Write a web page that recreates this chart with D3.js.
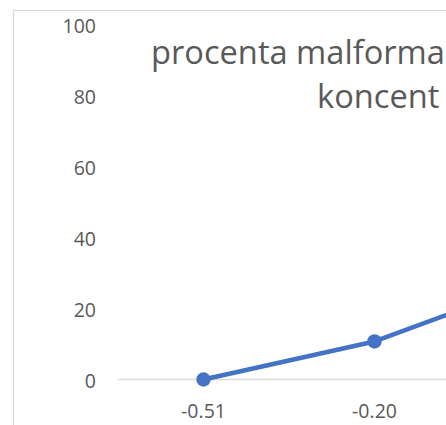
<!DOCTYPE html>
<html>
<head>
<meta charset="utf-8">
<script src="https://cdn.jsdelivr.net/npm/d3@7"></script>
<style>
  html, body { margin: 0; padding: 0; background: #fff; overflow: hidden; }
  text { font-family: "Open Sans", sans-serif; fill: #595959; }
</style>
</head>
<body>
<svg width="446" height="425"></svg>
<script>
// data (the chart is cropped, the 3rd point lies just past the right edge)
const categories = ["-0.51", "-0.20", "0.10"];
const values = [0, 10.7, 28.4];
const yTicks = [0, 20, 40, 60, 80, 100];
const titleLines = ["procenta malformací v závislosti na", "koncent"];

const svg = d3.select("svg");

// chart area frame
svg.append("rect")
    .attr("x", 13.5).attr("y", 10.5)
    .attr("width", 1000).attr("height", 1000)
    .attr("fill", "#fff")
    .attr("stroke", "#d9d9d9")
    .attr("stroke-width", 1.3);

// scales
const left = 118, step = 171;
const x = d3.scaleBand()
    .domain(categories)
    .range([left, left + step * categories.length]);
const y = d3.scaleLinear().domain([0, 100]).range([379.5, 24]);

// y labels
const yAxis = svg.append("g")
    .attr("transform", `translate(${left},0)`)
    .call(d3.axisLeft(y).tickValues(yTicks).tickSize(0).tickPadding(22));
yAxis.select(".domain").remove();
yAxis.selectAll("text")
    .attr("font-size", 19.5)
    .attr("font-family", "Open Sans")
    .attr("fill", "#595959")
    .attr("dy", "0.42em");

// horizontal axis line at 0
svg.append("line")
    .attr("x1", left).attr("x2", left + step * categories.length)
    .attr("y1", y(0)).attr("y2", y(0))
    .attr("stroke", "#d9d9d9")
    .attr("stroke-width", 1.3);

// x labels
const xAxis = svg.append("g")
    .attr("transform", `translate(0,${y(0)})`)
    .call(d3.axisBottom(x).tickSize(0).tickPadding(25));
xAxis.select(".domain").remove();
xAxis.selectAll("text")
    .attr("font-size", 19.5)
    .attr("font-family", "Open Sans")
    .attr("fill", "#595959");

// title - fit font size so "procenta malform" is about as wide as in the original
const probe = svg.append("text").attr("font-size", 32).text("procenta malform");
const titleSize = 32 * 276 / probe.node().getComputedTextLength();
probe.remove();

svg.append("text").attr("x", 151).attr("y", 64)
    .attr("font-size", titleSize).text(titleLines[0]);
svg.append("text").attr("x", 317).attr("y", 108)
    .attr("font-size", titleSize).text(titleLines[1]);

// line + markers
const pts = categories.map((c, i) => ({ c, v: values[i] }));
const line = d3.line()
    .x(d => x(d.c) + x.bandwidth() / 2)
    .y(d => y(d.v));

svg.append("path")
    .attr("d", line(pts))
    .attr("fill", "none")
    .attr("stroke", "#4472c4")
    .attr("stroke-width", 4.5)
    .attr("stroke-linejoin", "round");

svg.selectAll("circle.pt")
    .data(pts)
    .join("circle")
    .attr("class", "pt")
    .attr("cx", d => x(d.c) + x.bandwidth() / 2)
    .attr("cy", d => y(d.v))
    .attr("r", 7.2)
    .attr("fill", "#4472c4");
</script>
</body>
</html>
